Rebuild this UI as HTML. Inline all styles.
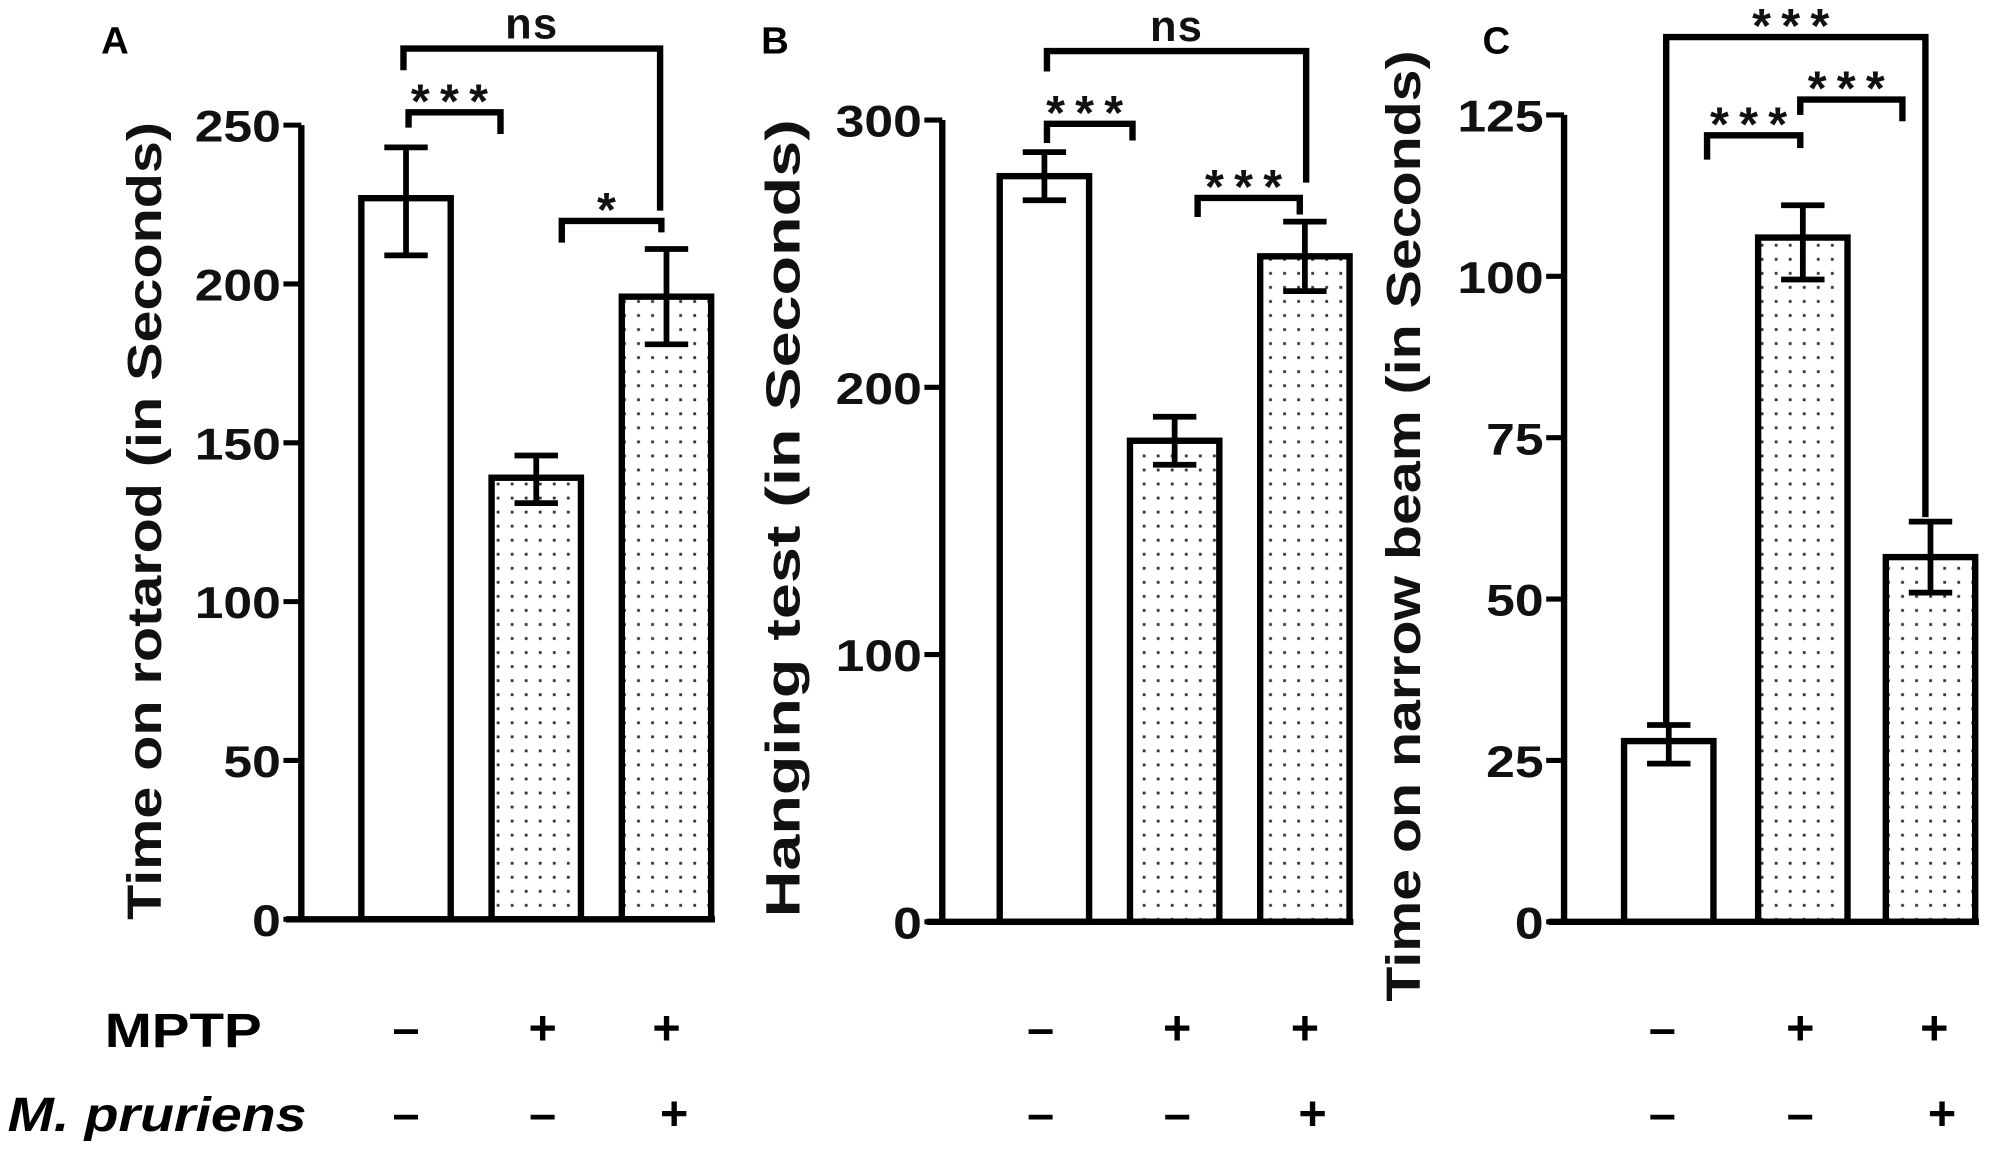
<!DOCTYPE html>
<html><head><meta charset="utf-8"><style>
html,body{margin:0;padding:0;background:#fff;}
svg{display:block;font-family:"Liberation Sans",Arial,sans-serif;}
</style></head><body>
<svg id="fig" width="2002" height="1156" viewBox="0 0 1568 905.4" xmlns="http://www.w3.org/2000/svg">
<defs>
<pattern id="dots" width="11" height="11" patternUnits="userSpaceOnUse">
<rect width="11" height="11" fill="#fff"/>
<rect x="4" y="4" width="2.2" height="2.2" fill="#333"/>
</pattern>
</defs>
<g id="root"></g>
</svg>
<script>
// Panel A
const catsA = ["Control","MPTP","MPTP+M.pruriens"];
const valsA = [227,139,196];
const errHiA = [243,146,211];
const errLoA = [209,131,181];
const ticksA = [0,50,100,150,200,250];
// Panel B
const valsB = [279,180,249];
const errHiB = [288,189,262];
const errLoB = [270,171,236];
const ticksB = [0,100,200,300];
// Panel C
const valsC = [28,106,56.5];
const errHiC = [30.5,111,62];
const errLoC = [24.5,99.5,51];
const ticksC = [0,25,50,75,100,125];
const mptpSigns = ["–","+","+"];
const mpSigns = ["–","–","+"];

const NS="http://www.w3.org/2000/svg";
const root=document.getElementById('root');
function mk(tag,attrs,parent){const e=document.createElementNS(NS,tag);for(const k in attrs)e.setAttribute(k,attrs[k]);(parent||root).appendChild(e);return e;}

const panels=[
 {id:'a',letter:'A',lx:90,axisX:236,y0:720,yTop:98,max:250,ticks:ticksA,vals:valsA,hi:errHiA,lo:errLoA,barX:[283,385,487],title:"Time on rotarod (in Seconds)",tx:112,ty:408,tlen:625,signX:[318,425,522],
  brackets:[{y:88,x1:320,x2:392,l:100,r:105,t:"***"},{y:38,x1:316,x2:517,l:55,r:165,t:"ns"},{y:173,x1:440,x2:518,l:190,r:182,t:"*"}]},
 {id:'b',letter:'B',lx:607,axisX:738,y0:722,yTop:94,max:300,ticks:ticksB,vals:valsB,hi:errHiB,lo:errLoB,barX:[783,885,987],title:"Hanging test (in Seconds)",tx:612,ty:406,tlen:625,signX:[815,922,1022],
  brackets:[{y:40,x1:820,x2:1023,l:56,r:143,t:"ns"},{y:97,x1:820,x2:887,l:112,r:110,t:"***"},{y:155,x1:938,x2:1018,l:170,r:168,t:"***"}]},
 {id:'c',letter:'C',lx:1172,axisX:1225,y0:722,yTop:90,max:125,ticks:ticksC,vals:valsC,hi:errHiC,lo:errLoC,barX:[1272,1377,1477],title:"Time on narrow beam (in Seconds)",tx:1098,ty:412,tlen:745,signX:[1302,1410,1515],
  brackets:[{y:29,x1:1305,x2:1508,l:567,r:405,t:"***"},{y:106,x1:1337,x2:1410,l:125,r:116,t:"***"},{y:78,x1:1410,x2:1490,l:90,r:95,t:"***"}]}
];
const bw=70;
panels.forEach(p=>{
 const g=mk('g',{});
 
 
 const ys=v=>p.y0-(v/p.max)*(p.y0-p.yTop);
 const lt=mk('text',{x:p.lx,y:42,'font-size':30,'font-weight':'bold','text-anchor':'middle'},g);lt.textContent=p.letter;
 
 
 p.vals.forEach((v,i)=>{
  const x=p.barX[i];
  const r=mk('rect',{x:x,y:ys(v),width:bw,height:p.y0-ys(v),fill:i==0?'#fff':'url(#dots)',stroke:'#000','stroke-width':5},g);
  
  
  const cx=x+bw/2;
  const eb=mk('path',{d:`M${cx},${ys(p.hi[i])}V${ys(p.lo[i])}M${cx-17},${ys(p.hi[i])}H${cx+17}M${cx-17},${ys(p.lo[i])}H${cx+17}`,stroke:'#000','stroke-width':4.5,fill:'none'},g);
  
  
 });
 const ax=mk('path',{d:`M${p.axisX},${p.yTop}V${p.y0}M${p.axisX-12},${p.y0}H${p.barX[2]+bw+3}`,stroke:'#000','stroke-width':5,fill:'none'},g);
 
 
 p.ticks.forEach(t=>{
  mk('line',{x1:p.axisX-14,x2:p.axisX,y1:ys(t),y2:ys(t),stroke:'#000','stroke-width':4},g);
  const s=String(t);
  const tl=mk('text',{x:p.axisX-16-s.length*22.5,y:ys(t)+13,'font-size':35,'font-weight':'bold',fill:'#111',textLength:s.length*22.5,lengthAdjust:'spacingAndGlyphs'},g);
  tl.textContent=s;
  
  
 });
 const tt=mk('text',{x:0,y:0,'font-size':38,'text-anchor':'middle',fill:'#111','font-weight':'bold',textLength:p.tlen,lengthAdjust:'spacingAndGlyphs',transform:`translate(${p.tx+14},${p.ty}) rotate(-90)`},g);
 tt.textContent=p.title;
 
 
 p.brackets.forEach(b=>{
  const br=mk('path',{d:`M${b.x1},${b.l}V${b.y}H${b.x2}V${b.r}`,stroke:'#000','stroke-width':5,fill:'none'},g);
  
  
  const isNs=b.t=='ns';
  const st=mk('text',{x:(b.x1+b.x2)/2,y:isNs?b.y-8:b.y+4,'font-size':isNs?34:38,'font-weight':'bold','text-anchor':'middle',fill:'#111','letter-spacing':isNs?1:8},g);
  st.textContent=b.t;
  
  
 });
 p.signX.forEach((x,i)=>{
  const s1=mk('text',{x:x,y:818,'font-size':38,'font-weight':'bold','text-anchor':'middle'},g);s1.textContent=mptpSigns[i];
  
  
  const s2=mk('text',{x:x+(i==2?6:0),y:885,'font-size':38,'font-weight':'bold','text-anchor':'middle'},g);s2.textContent=mpSigns[i];
  
  
 });
});
const m1=mk('text',{x:82,y:820,'font-size':38,'font-weight':'bold',textLength:123,lengthAdjust:'spacingAndGlyphs'});m1.textContent="MPTP";


const m2=mk('text',{x:6,y:886,'font-size':38,'font-weight':'bold','font-style':'italic',textLength:234,lengthAdjust:'spacingAndGlyphs'});m2.textContent="M. pruriens";


</script>
</body></html>
